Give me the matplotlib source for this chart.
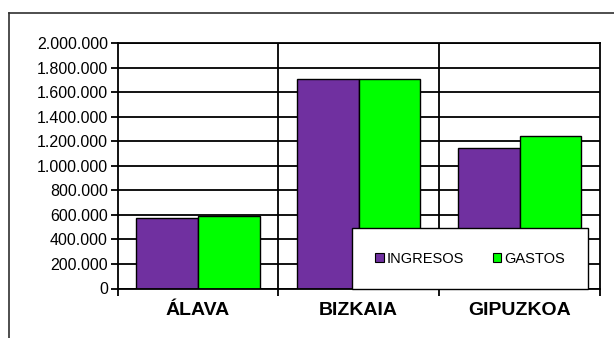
import numpy as np
import matplotlib
matplotlib.use("Agg")
import matplotlib.pyplot as plt
from matplotlib.lines import Line2D

# data
categories = ["ÁLAVA", "BIZKAIA", "GIPUZKOA"]
ingresos = [572000, 1705000, 1142000]
gastos = [590000, 1705000, 1245000]
series_names = ["INGRESOS", "GASTOS"]
y_ticks = [0, 200000, 400000, 600000, 800000, 1000000, 1200000, 1400000,
           1600000, 1800000, 2000000]

plt.rcParams['font.family'] = ['Liberation Sans', 'DejaVu Sans']

W, H = 614, 338
fig = plt.figure(figsize=(W / 100, H / 100), dpi=100)
ax = fig.add_axes([117.5 / W, 1 - 288.5 / H, (600 - 117.5) / W, (288.5 - 43) / H])

x = np.arange(len(categories))
bw = 0.383
ax.bar(x - bw / 2, ingresos, bw, color="#7030A0", edgecolor="black", linewidth=1.0,
       label=series_names[0], zorder=3)
ax.bar(x + bw / 2, gastos, bw, color="#00FF00", edgecolor="black", linewidth=1.0,
       label=series_names[1], zorder=3)

ax.set_xlim(-0.5, len(categories) - 0.5)
ax.set_ylim(0, 2000000)

# horizontal grid lines + category separators
ax.set_yticks(y_ticks)
ax.set_yticklabels([f"{v:,}".replace(",", ".") for v in y_ticks], fontsize=11.5)
ax.yaxis.grid(True, color="black", linewidth=1.3, zorder=1)
for sep in np.arange(0.5, len(categories) - 0.5, 1):
    ax.axvline(sep, color="black", linewidth=1.3, zorder=1)

ax.set_xticks(np.arange(-0.5, len(categories), 1))
ax.set_xticklabels([])
ax.set_xticks(x, minor=True)
ax.set_xticklabels(categories, minor=True, fontsize=14, fontweight="bold")
ax.tick_params(axis="x", which="minor", length=0, pad=10)
ax.tick_params(axis="x", which="major", length=5, width=1.3, direction="out")
ax.tick_params(axis="y", length=5, width=1.3, direction="out", pad=2)
ax.set_axisbelow(True)

for s in ax.spines.values():
    s.set_color("black")
    s.set_linewidth(1.3)
    s.set_zorder(4)

leg = ax.legend(loc="lower right", bbox_to_anchor=(588 / W, 1 - 289 / H),
                bbox_transform=fig.transFigure, borderaxespad=0, ncol=2,
                fontsize=10.5, frameon=True, fancybox=False, framealpha=1,
                edgecolor="black", borderpad=1.6, handlelength=0.55,
                handleheight=0.55, handletextpad=0.2, columnspacing=2.0)
leg.get_frame().set_linewidth(1.0)
leg.set_zorder(5)
for h in leg.legend_handles:
    h.set_linewidth(0.8)

# outer chart frame (cut off at right and bottom)
fig.add_artist(Line2D([8.5 / W, 8.5 / W], [0, 1 - 13 / H], color="#303030",
                      linewidth=1.2, transform=fig.transFigure))
fig.add_artist(Line2D([8.5 / W, 1], [1 - 13 / H, 1 - 13 / H], color="#303030",
                      linewidth=1.2, transform=fig.transFigure))

fig.savefig("out.png", dpi=100)
